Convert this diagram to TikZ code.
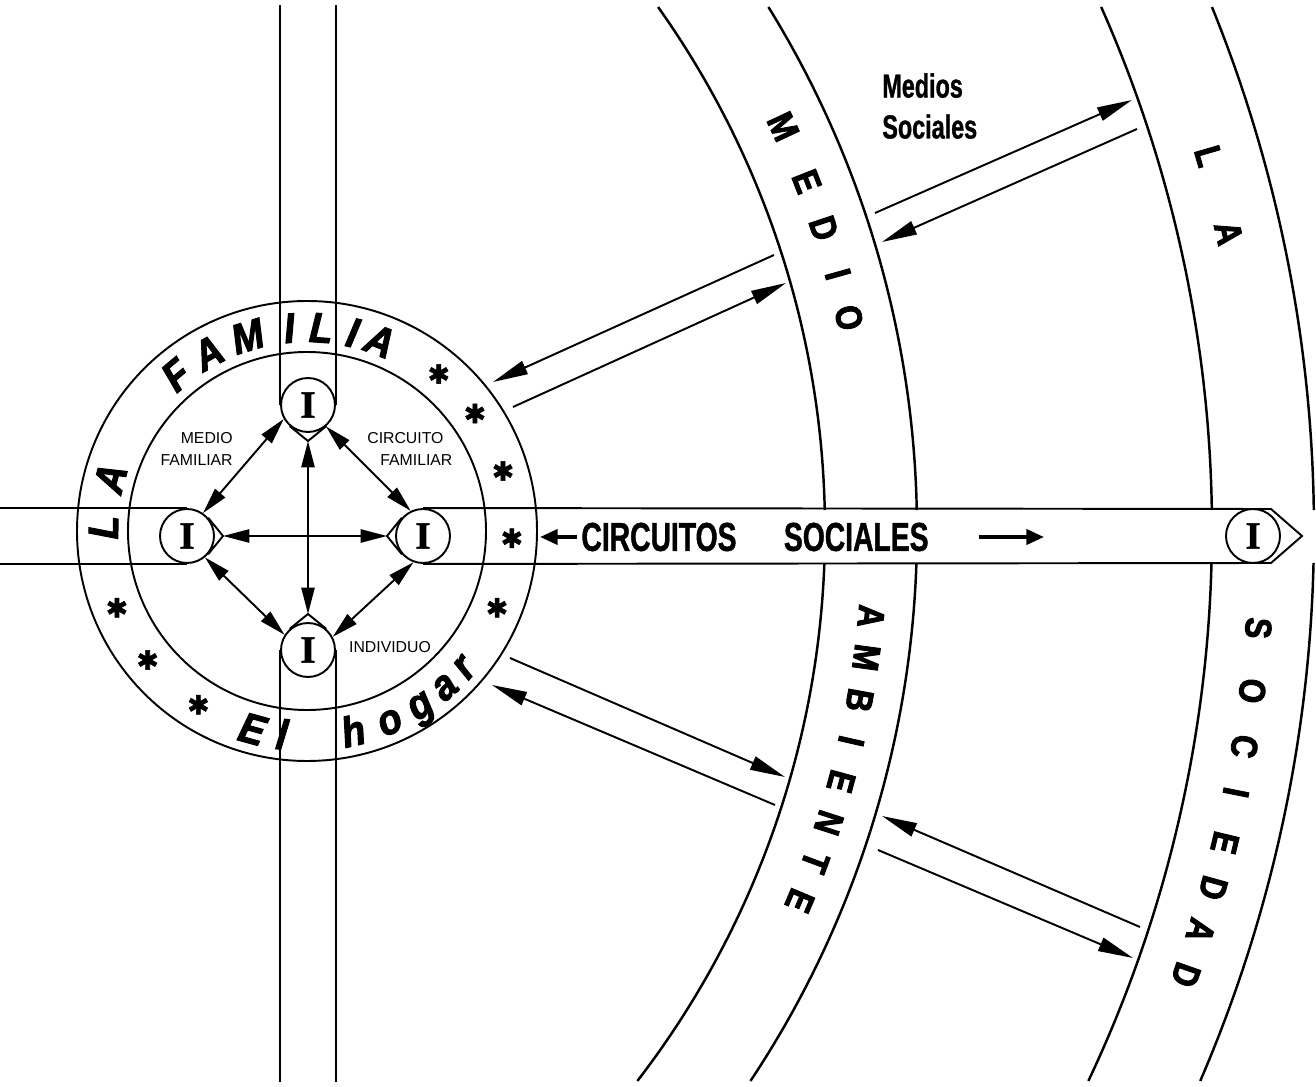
\documentclass[tikz,border=0pt]{standalone}
\usepackage{fontspec}
\setmainfont{Liberation Sans}
\newfontfamily\condfont[FakeStretch=0.7,FakeBold=1]{Liberation Sans Bold}
\newfontfamily\bandfont[FakeStretch=0.85,FakeBold=2.5]{Liberation Sans Bold}
\newfontfamily\ringfont[FakeStretch=0.9,FakeBold=2.5]{Liberation Sans Bold Italic}
\newfontfamily\indfont[FakeBold=1.5]{Liberation Serif Bold}
\newfontfamily\symfont[FakeBold=2]{DejaVu Sans}
\usepackage{tikz}
\usetikzlibrary{arrows.meta,calc}

\begin{document}
\begin{tikzpicture}[x=0.02cm, y=0.02cm,
  ink/.style={line width=1.1pt},
  arcline/.style={line width=1.4pt},
  indnode/.style={circle, draw, line width=1.1pt, fill=white, minimum size=1.08cm,
    inner sep=0pt, font=\indfont\fontsize{22}{22}\selectfont},
  bigarrow/.style={line width=1.1pt, -{Triangle[length=20pt,width=8pt]}},
  famarrow/.style={line width=1.1pt,
    {Triangle[length=15pt,width=7.5pt]}-{Triangle[length=15pt,width=7.5pt]}},
  smallarrow/.style={line width=2.2pt, -{Triangle[length=10pt,width=8.5pt]}},
  ringtop/.style={anchor=base, inner sep=0pt, font=\ringfont\fontsize{24}{24}\selectfont},
  bandletter/.style={inner sep=0pt, font=\bandfont\fontsize{21}{21}\selectfont},
  asterisk/.style={inner sep=0pt, font=\symfont\fontsize{15}{15}\selectfont},
  smalllabel/.style={inner sep=0pt, font=\fontsize{9}{12.5}\selectfont}]

\fill[white] (0,0) rectangle (1316,-1087);
\useasboundingbox (0,0) rectangle (1316,-1087);

% Centres
\coordinate (fam) at (307,-531);
\coordinate (ctr) at (-78,-530);
\coordinate (topedge) at (0,-5);
\coordinate (botedge) at (0,-1082);
\coordinate (leftedge) at (0,0);

% Medio ambiente / la sociedad arcs (cut by the band)
\foreach \r in {903,995,1290,1392}{
  \draw[arcline] ($(ctr)+({asin(523/\r)}:\r)$)
    arc[start angle={asin(523/\r)}, end angle={asin(20/\r)}, radius=\r];
  \draw[arcline] ($(ctr)+({asin(-33/\r)}:\r)$)
    arc[start angle={asin(-33/\r)}, end angle={asin(-551/\r)}, radius=\r];
}

% Family rings
\draw[ink] (fam) circle[radius=230];
\draw[ink] (fam) circle[radius=179];

% Individuals
\node[indnode] (Itop) at (308,-405) {I};
\node[indnode] (Ibot) at (308,-650) {I};
\node[indnode] (Ileft) at (187,-536) {I};
\node[indnode] (Iright) at (423,-536) {I};
\node[indnode] (Ifar) at (1253,-536) {I};

% Tips
\coordinate (ttop) at (308,-441);
\coordinate (tbot) at (308,-614);
\coordinate (tleft) at (223,-536);
\coordinate (tright) at (387,-536);
\coordinate (farN) at (1271,-509);
\coordinate (farS) at (1271,-563);
\coordinate (fartip) at (1302,-536);

\draw[ink] (Itop.-49) -- (ttop) -- (Itop.-131);
\draw[ink] (Ibot.49) -- (tbot) -- (Ibot.131);
\draw[ink] (Ileft.41) -- (tleft) -- (Ileft.-41);
\draw[ink] (Iright.139) -- (tright) -- (Iright.221);

% Bands
\draw[ink] (Itop.west) -- (Itop.west |- topedge);
\draw[ink] (Itop.east) -- (Itop.east |- topedge);
\draw[ink] (Ibot.west) -- (Ibot.west |- botedge);
\draw[ink] (Ibot.east) -- (Ibot.east |- botedge);
\draw[ink] (Ileft.north) -- (Ileft.north -| leftedge);
\draw[ink] (Ileft.south) -- (Ileft.south -| leftedge);
\draw[ink] (Iright.north) -- (farN) -- (fartip) -- (farS) -- (Iright.south);

% Family links
\draw[famarrow] (ttop) -- (tbot);
\draw[famarrow] (tleft) -- (tright);
\draw[famarrow] (Itop.210) -- (Ileft.55);
\draw[famarrow] (Itop.-50) -- (Iright.116);
\draw[famarrow] (Ileft.-50) -- (Ibot.147);
\draw[famarrow] (Iright.250) -- (Ibot.28);

% Ring text
\foreach \ch/\a [count=\k] in {L/179,A/165,F/130,A/119,M/107,I/95,L/86,I/77,A/69}
  \node[ringtop, rotate=\a-90] (rt\k) at ($(fam)+(\a:189)$) {\ch};
\foreach \ch/\a [count=\k] in {E/254.6,l/263,h/283,o/293.5,g/303,a/311.5,r/319}
  \node[ringtop, rotate=\a+90] (rb\k) at ($(fam)+(\a:220)$) {\ch};
\foreach \a [count=\k] in {50,35,17,-2,-22,202,219,238}
  \node[asterisk] (ast\k) at ($(fam)+(\a:205)$) {✱};

% Labels
\node[smalllabel, align=right, anchor=east] (medfam) at (233,-449) {MEDIO\\FAMILIAR};
\node[smalllabel, align=left, anchor=west] (circfam) at (367,-449)
  {CIRCUITO\\\hspace*{7.4pt}FAMILIAR};
\node[smalllabel] (indiv) at (390,-647) {INDIVIDUO};
\node[font=\condfont\fontsize{23}{23}\selectfont, inner sep=0pt] (circsoc) at (755,-537)
  {CIRCUITOS\hspace{27pt}SOCIALES};
\node[font=\condfont\fontsize{19}{23.3}\selectfont, inner sep=0pt, align=left,
  anchor=north west] (medsoc) at (882,-73) {Medios\\Sociales};

% Small arrows in the band
\coordinate (sa1) at (577,-537);
\coordinate (sa2) at (540,-537);
\coordinate (sb1) at (979,-537);
\coordinate (sb2) at (1044,-537);
\draw[smallarrow] (sa1) -- (sa2);
\draw[smallarrow] (sb1) -- (sb2);

% Medio ambiente letters
\foreach \ch/\a [count=\k] in {M/25.1,E/21.5,D/18.5,I/15.6,O/12.9}
  \node[bandletter, rotate=\a-90] (md\k) at ($(ctr)+(\a:951)$) {\ch};
\foreach \ch/\a [count=\k] in {A/-5.2,M/-7.7,B/-10.3,I/-12.8,E/-15.3,N/-17.9,T/-20.4,E/-22.9}
  \node[bandletter, rotate=\a-90] (am\k) at ($(ctr)+(\a:953)$) {\ch};

% La sociedad letters
\foreach \ch/\a [count=\k] in {L/16.2,A/12.8}
  \node[bandletter, rotate=\a-90] (la\k) at ($(ctr)+(\a:1340)$) {\ch};
\foreach \ch/\a [count=\k] in {S/-4.2,O/-6.9,C/-9.3,I/-11.3,E/-13.5,D/-15.5,A/-17.4,D/-19.4}
  \node[bandletter, rotate=\a-90] (so\k) at ($(ctr)+(\a:1340)$) {\ch};

% Exchange arrows
\coordinate (ul1a) at (774,-255);
\coordinate (ul1b) at (493,-382);
\coordinate (ul2a) at (513,-407);
\coordinate (ul2b) at (786,-283);
\coordinate (ur1a) at (875,-213);
\coordinate (ur1b) at (1132,-100);
\coordinate (ur2a) at (1137,-129);
\coordinate (ur2b) at (882,-242);
\coordinate (ll1a) at (510,-658);
\coordinate (ll1b) at (785,-777);
\coordinate (ll2a) at (775,-805);
\coordinate (ll2b) at (492,-685);
\coordinate (lr1a) at (1140,-927);
\coordinate (lr1b) at (882,-816);
\coordinate (lr2a) at (878,-850);
\coordinate (lr2b) at (1133,-958);

\draw[bigarrow] (ul1a) -- (ul1b);
\draw[bigarrow] (ul2a) -- (ul2b);
\draw[bigarrow] (ur1a) -- (ur1b);
\draw[bigarrow] (ur2a) -- (ur2b);
\draw[bigarrow] (ll1a) -- (ll1b);
\draw[bigarrow] (ll2a) -- (ll2b);
\draw[bigarrow] (lr1a) -- (lr1b);
\draw[bigarrow] (lr2a) -- (lr2b);

\end{tikzpicture}
\end{document}
